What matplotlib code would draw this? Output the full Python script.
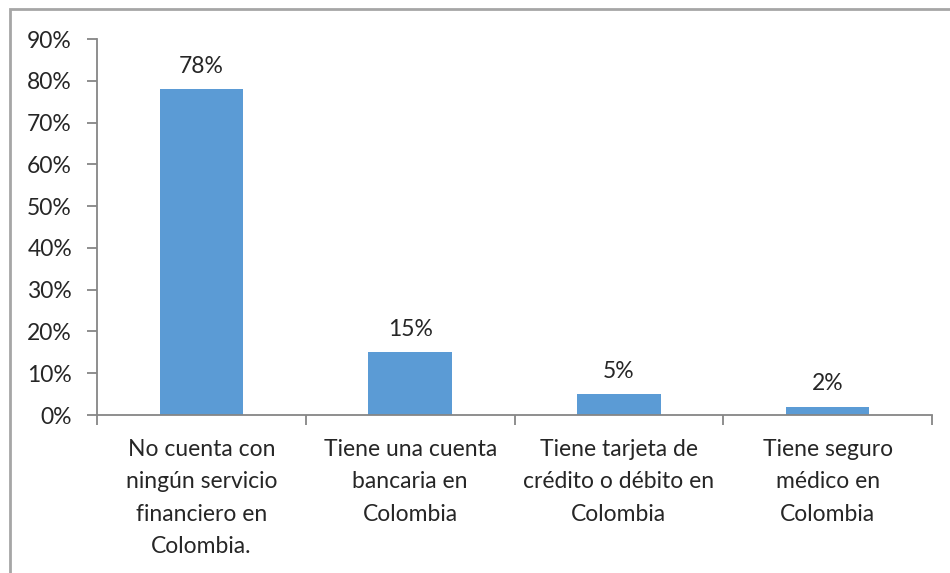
import matplotlib
matplotlib.use("Agg")
import matplotlib.pyplot as plt
from matplotlib.patches import Rectangle
from matplotlib.ticker import FixedLocator, NullFormatter

categories = [
    "No cuenta con\nningún servicio\nfinanciero en\nColombia.",
    "Tiene una cuenta\nbancaria en\nColombia",
    "Tiene tarjeta de\ncrédito o débito en\nColombia",
    "Tiene seguro\nmédico en\nColombia",
]
values = [78, 15, 5, 2]
value_labels = ["78%", "15%", "5%", "2%"]
y_ticks = [0, 10, 20, 30, 40, 50, 60, 70, 80, 90]
y_tick_labels = ["0%", "10%", "20%", "30%", "40%", "50%", "60%", "70%", "80%", "90%"]

plt.rcParams['font.family'] = ['Lato', 'DejaVu Sans']
FS = 16.5
TXT = "#262626"
AX = "#868686"

fig = plt.figure(figsize=(9.5, 5.73), dpi=100)
fig.patch.set_facecolor("white")
# outer frame (left and top visible)
fig.add_artist(Rectangle((10/950, -0.05), 1.2, 1 - 9.5/573 + 0.05, transform=fig.transFigure,
                         fill=False, edgecolor="#A6A6A6", linewidth=2))

ax = fig.add_axes([97/950, 1 - 415/573, (932 - 97)/950, (415 - 39)/573])
x = list(range(len(categories)))
ax.bar(x, values, width=0.4, color="#5B9BD5", zorder=2)
for xi, v, lab in zip(x, values, value_labels):
    ax.text(xi, v + 3.0, lab, ha="center", va="bottom", fontsize=FS, color=TXT)

ax.set_xlim(-0.5, len(categories) - 0.5)
ax.set_ylim(0, 90)
ax.set_yticks(y_ticks)
ax.set_yticklabels(y_tick_labels, fontsize=FS, color=TXT)
ax.set_xticks(x)
ax.set_xticklabels(categories, fontsize=FS, color=TXT, linespacing=1.68, va="top")
ax.tick_params(axis="x", length=0, pad=17)
ax.xaxis.set_minor_locator(FixedLocator([i - 0.5 for i in range(len(categories) + 1)]))
ax.xaxis.set_minor_formatter(NullFormatter())
ax.tick_params(axis="x", which="minor", length=7, color=AX, width=1.3, direction="out")
ax.tick_params(axis="y", length=7, color=AX, width=1.3, direction="out", pad=11)

for s in ["top", "right"]:
    ax.spines[s].set_visible(False)
for s in ["left", "bottom"]:
    ax.spines[s].set_color(AX)
    ax.spines[s].set_linewidth(1.3)

fig.savefig("out.png", dpi=100, facecolor="white")
